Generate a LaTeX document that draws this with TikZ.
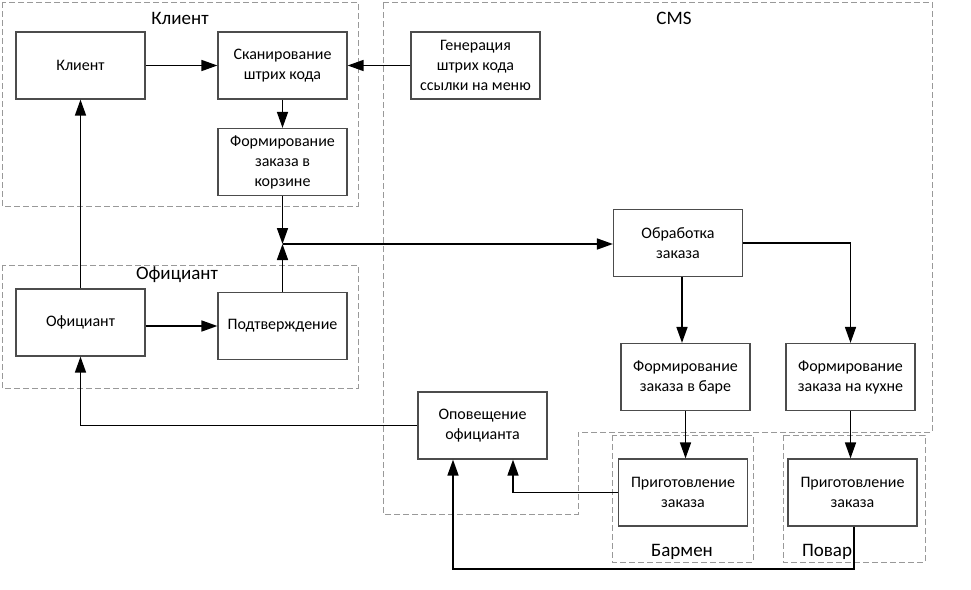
\documentclass[tikz,border=0pt]{standalone}
\usepackage{fontspec}
\setmainfont{Carlito}
\usetikzlibrary{arrows.meta,positioning,calc}

\begin{document}
\begin{tikzpicture}[x=1pt,y=-1pt,
  box/.style={draw=black!70,line width=1.2pt,fill=white,rectangle,minimum width=129pt,minimum height=67pt,inner sep=2pt,align=center,font=\fontsize{16}{20}\selectfont},
  group/.style={draw=black!40,line width=0.9pt,dash pattern=on 6pt off 3pt},
  grouplabel/.style={font=\fontsize{19}{22}\selectfont},
  flow/.style={line width=1.6pt,-{Triangle[length=16pt,width=11pt]}}]
  \useasboundingbox (0,0) rectangle (971,589);

  % groups
  \draw[group] (2,2) rectangle (358,206);
  \draw[group] (2,265) rectangle (358,388);
  \draw[group] (383,2) -- (932,2) -- (932,432) -- (578,432) -- (578,514) -- (383,514) -- cycle;
  \draw[group] (612,435) rectangle (753,562);
  \draw[group] (783,435) rectangle (925,562);

  \node[grouplabel] (lclient) at (180,18) {Клиент};
  \node[grouplabel] (lwaiter) at (177,275) {Официант};
  \node[grouplabel] (lcms) at (674,18) {CMS};
  \node[grouplabel] (lbar) at (682,552) {Бармен};
  \node[grouplabel] (lcook) at (827,552) {Повар};

  % boxes
  \node[box] (client) at (80.5,65.5) {Клиент};
  \node[box] (scan) at (282.5,65.5) {Сканирование\\штрих кода};
  \node[box] (gen) at (475.5,65.5) {Генерация\\штрих кода\\ссылки на меню};
  \node[box] (cart) at (282.5,162) {Формирование\\заказа в\\корзине};
  \node[box] (waiter) at (80.5,322.5) {Официант};
  \node[box] (confirm) at (282.5,326) {Подтверждение};
  \node[box] (order) at (678,243) {Обработка\\заказа};
  \node[box] (formbar) at (685.5,377) {Формирование\\заказа в баре};
  \node[box] (formkit) at (850.5,377) {Формирование\\заказа на кухне};
  \node[box] (notify) at (482.5,425.5) {Оповещение\\официанта};
  \node[box] (prepbar) at (683,492.5) {Приготовление\\заказа};
  \node[box] (prepkit) at (852.5,492.5) {Приготовление\\заказа};

  \coordinate (join) at (282.5,244);
  \coordinate (loop) at (854,569);

  % connectors
  \draw[flow] (client) -- (scan);
  \draw[flow] (gen) -- (scan);
  \draw[flow] (scan) -- (cart);
  \draw[flow] (cart) -- (join);
  \draw[flow] (confirm) -- (join);
  \draw[flow] (join) -- (join -| order.west);
  \draw[flow] (waiter) -- (client);
  \draw[flow] (waiter.east |- confirm.west) -- (confirm.west);
  \draw[flow] ([xshift=4pt]order.south) -- ([xshift=4pt]order.south |- formbar.north);
  \draw[flow] (order.east) -| (formkit.north);
  \draw[flow] (formbar.south) -- (formbar.south |- prepbar.north);
  \draw[flow] (formkit.south) -- (formkit.south |- prepkit.north);
  \draw[flow] (prepbar.west) -| ([xshift=30.5pt]notify.south);
  \draw[flow] (loop |- prepkit.south) -- (loop) -| ([xshift=-29.5pt]notify.south);
  \draw[flow] (notify.west) -| (waiter.south);

\end{tikzpicture}
\end{document}
